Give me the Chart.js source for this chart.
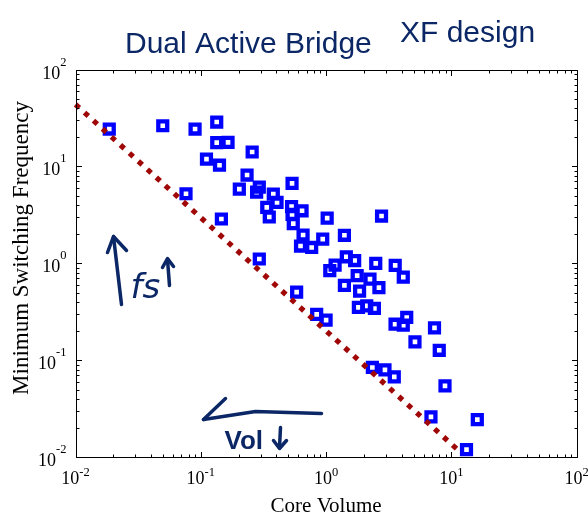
<!DOCTYPE html>
<html>
<head>
<meta charset="utf-8">
<script src="https://cdn.jsdelivr.net/npm/chart.js@4/dist/chart.umd.min.js"></script>
<style>
  html, body { margin: 0; padding: 0; background: #fff; }
</style>
</head>
<body>
<canvas id="chart" width="588" height="517"></canvas>
<script>
// core volume vs minimum switching frequency
const coreVolume = [0.0186, 0.0497, 0.090, 0.134, 0.134, 0.165, 0.111, 0.141, 0.257, 0.234,
  0.203, 0.293, 0.279, 0.535, 0.0762, 0.146, 0.379, 0.406, 0.336, 0.352,
  0.530, 0.643, 0.535, 0.547, 1.02, 0.655, 0.625, 0.767, 0.940, 1.40,
  2.77, 0.293, 1.07, 1.18, 1.45, 1.69, 2.49, 3.56, 4.13, 1.77,
  1.40, 2.24, 2.64, 1.85, 0.582, 1.81, 2.11, 2.43, 4.40, 3.55,
  4.13, 7.33, 5.12, 8.0, 2.34, 2.95, 3.50, 8.89, 6.87, 16.1,
  13.2, 0.841, 1.00];
const minFreq = [24.3, 26.3, 24.3, 28.7, 17.6, 17.7, 11.9, 10.3, 14.1, 8.15,
  5.84, 6.13, 5.44, 6.69, 5.23, 2.87, 5.19, 4.26, 3.78, 3.01,
  3.86, 3.49, 3.20, 2.57, 2.93, 1.96, 1.51, 1.46, 1.78, 1.95,
  3.08, 1.11, 0.843, 0.960, 1.17, 1.07, 1.00, 0.953, 0.722, 0.748,
  0.594, 0.689, 0.563, 0.518, 0.506, 0.352, 0.365, 0.343, 0.277, 0.236,
  0.231, 0.216, 0.155, 0.127, 0.0845, 0.0798, 0.0676, 0.0546, 0.0261, 0.0245,
  0.0120, 0.298, 0.260];

// dotted bound line, end points
const boundVolume = [0.01, 11.56];
const boundFreq = [43.6, 0.01156];

const decadeValues = [0.01, 0.1, 1, 10, 100];
const decadeExps = ['-2', '-1', '0', '1', '2'];

const serif = '"Liberation Serif", "Times New Roman", serif';
const ink = '#0b2766';

const matlabAxes = {
  id: 'matlabAxes',
  afterDraw(chart) {
    const { ctx, chartArea: a, scales: { x, y } } = chart;
    ctx.save();
    ctx.strokeStyle = '#000';
    ctx.lineWidth = 1;
    const L = Math.round(a.left) + 0.5, R = Math.round(a.right) + 0.5;
    const T = Math.round(a.top) + 0.5, B = Math.round(a.bottom) + 0.5;
    ctx.strokeRect(L, T, R - L, B - T);

    const minors = [];
    for (let k = -2; k < 2; k++) for (let m = 2; m <= 9; m++) minors.push(m * Math.pow(10, k));
    const tick = (v, len) => {
      const px = Math.round(x.getPixelForValue(v)) + 0.5;
      const py = Math.round(y.getPixelForValue(v)) + 0.5;
      ctx.beginPath();
      ctx.moveTo(px, B); ctx.lineTo(px, B - len);
      ctx.moveTo(px, T); ctx.lineTo(px, T + len);
      ctx.moveTo(L, py); ctx.lineTo(L + len, py);
      ctx.moveTo(R, py); ctx.lineTo(R - len, py);
      ctx.stroke();
    };
    minors.forEach(v => tick(v, 3));
    decadeValues.forEach(v => tick(v, 5.5));

    // tick labels 10^k
    ctx.fillStyle = '#000';
    ctx.textBaseline = 'alphabetic';
    const bigFont = '18px ' + serif, smallFont = '12.5px ' + serif;
    decadeValues.forEach((v, i) => {
      ctx.font = bigFont;
      const wb = ctx.measureText('10').width;
      ctx.font = smallFont;
      const we = ctx.measureText(decadeExps[i]).width;
      // x axis
      const cx = x.getPixelForValue(v);
      const x0 = cx - (wb + we) / 2;
      ctx.font = bigFont; ctx.textAlign = 'left';
      ctx.fillText('10', x0, a.bottom + 27);
      ctx.font = smallFont;
      ctx.fillText(decadeExps[i], x0 + wb, a.bottom + 19);
      // y axis
      const cy = y.getPixelForValue(v);
      const xr = a.left - 9;
      ctx.font = bigFont;
      ctx.fillText('10', xr - we - wb, cy + 9);
      ctx.font = smallFont;
      ctx.fillText(decadeExps[i], xr - we, cy - 4);
    });

    ctx.font = '21px ' + serif;
    ctx.textAlign = 'center';
    ctx.fillText('Core Volume', (a.left + a.right) / 2, 512);
    ctx.save();
    ctx.translate(28, 248);
    ctx.rotate(-Math.PI / 2);
    ctx.font = '23px ' + serif;
    ctx.fillText('Minimum Switching Frequency', 0, 0);
    ctx.restore();

    // handwritten notes
    ctx.strokeStyle = ink;
    ctx.fillStyle = ink;
    ctx.lineWidth = 3.5;
    ctx.lineCap = 'round';
    ctx.lineJoin = 'round';
    const o = (dx, dy) => [a.left + dx, a.top + dy];
    const stroke = pts => {
      ctx.beginPath();
      pts.forEach((p, i) => { const q = o(p[0], p[1]); i ? ctx.lineTo(q[0], q[1]) : ctx.moveTo(q[0], q[1]); });
      ctx.stroke();
    };
    // up arrow
    stroke([[46, 235], [38, 167]]);
    stroke([[32, 183], [38, 167], [51, 181]]);
    // small up arrow after fs
    stroke([[94, 216], [92, 190]]);
    stroke([[87, 198], [92, 189], [98, 197]]);
    // left arrow
    stroke([[246, 344], [180, 342], [128, 350]]);
    stroke([[150, 329], [128, 350]]);
    // small down arrow after Vol
    stroke([[205, 358], [204, 378]]);
    stroke([[198, 371], [204, 379], [211, 371]]);

    ctx.textAlign = 'left';
    ctx.font = 'italic 34px "DejaVu Sans", sans-serif';
    ctx.fillText('fs', a.left + 55, a.top + 228);
    ctx.font = 'bold 26px "Liberation Sans", sans-serif';
    ctx.fillText('Vol', a.left + 149, a.top + 379);
    ctx.font = '30px "Liberation Sans", sans-serif';
    ctx.fillText('Dual Active Bridge', 125, 53);
    ctx.fillText('XF design', 400, 42);
    ctx.restore();
  }
};

new Chart(document.getElementById('chart'), {
  type: 'scatter',
  data: {
    datasets: [
      {
        label: 'bound',
        type: 'line',
        data: boundVolume.map((v, i) => ({ x: v, y: boundFreq[i] })),
        borderColor: '#a00808',
        borderWidth: 5.2,
        borderDash: [5.2, 6.9],
        pointRadius: 0,
        fill: false,
        clip: false,
        order: 0
      },
      {
        label: 'designs',
        data: coreVolume.map((v, i) => ({ x: v, y: minFreq[i] })),
        pointStyle: 'rect',
        pointRadius: 6.3,
        pointBorderWidth: 4.3,
        borderColor: '#0000ff',
        backgroundColor: 'rgba(0,0,0,0)',
        order: 1
      }
    ]
  },
  options: {
    responsive: false,
    animation: false,
    devicePixelRatio: 1,
    layout: { padding: { left: 75.5, right: 11.3, top: 69.5, bottom: 59.7 } },
    plugins: { legend: { display: false }, tooltip: { enabled: false } },
    scales: {
      x: { type: 'logarithmic', min: 0.01, max: 100, display: false },
      y: { type: 'logarithmic', min: 0.01, max: 100, display: false }
    }
  },
  plugins: [matlabAxes]
});
</script>
</body>
</html>
